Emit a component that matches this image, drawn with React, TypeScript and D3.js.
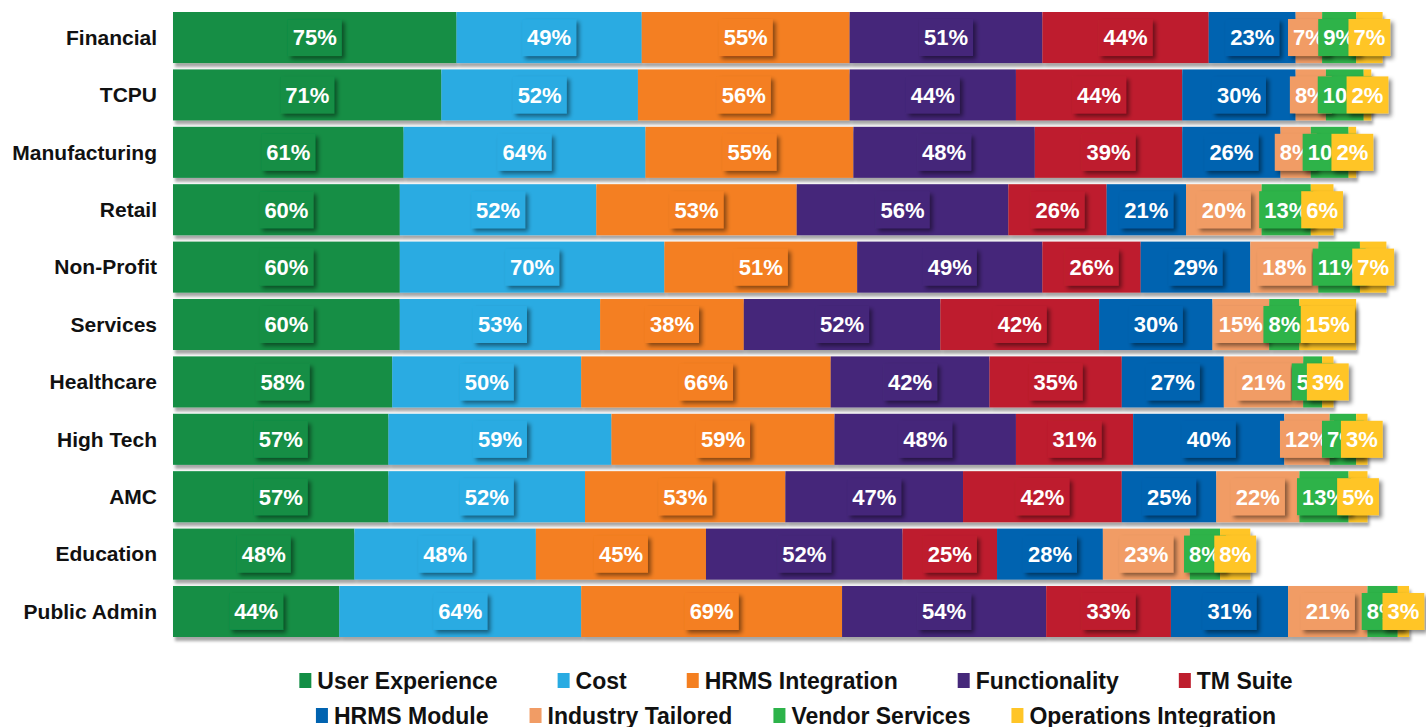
import { useRef, useEffect } from 'react';
import * as d3 from 'd3';

const categories = ['Financial', 'TCPU', 'Manufacturing', 'Retail', 'Non-Profit', 'Services', 'Healthcare', 'High Tech', 'AMC', 'Education', 'Public Admin'];

const seriesNames = ['User Experience', 'Cost', 'HRMS Integration', 'Functionality', 'TM Suite', 'HRMS Module', 'Industry Tailored', 'Vendor Services', 'Operations Integration'];

const userExperience = [75, 71, 61, 60, 60, 60, 58, 57, 57, 48, 44];
const cost = [49, 52, 64, 52, 70, 53, 50, 59, 52, 48, 64];
const hrmsIntegration = [55, 56, 55, 53, 51, 38, 66, 59, 53, 45, 69];
const functionality = [51, 44, 48, 56, 49, 52, 42, 48, 47, 52, 54];
const tmSuite = [44, 44, 39, 26, 26, 42, 35, 31, 42, 25, 33];
const hrmsModule = [23, 30, 26, 21, 29, 30, 27, 40, 25, 28, 31];
const industryTailored = [7, 8, 8, 20, 18, 15, 21, 12, 22, 23, 21];
const vendorServices = [9, 10, 10, 13, 11, 8, 5, 7, 13, 8, 8];
const operationsIntegration = [7, 2, 2, 6, 7, 15, 3, 3, 5, 8, 3];

const colors = ['#128E45', '#29ABE2', '#F47F20', '#45287A', '#BE1E2D', '#0063B0', '#F19C65', '#2DB34A', '#FFC527'];

const legendRows = [
    ['User Experience', 'Cost', 'HRMS Integration', 'Functionality', 'TM Suite'],
    ['HRMS Module', 'Industry Tailored', 'Vendor Services', 'Operations Integration'],
];

const FONT = '"Liberation Sans", Arial, sans-serif';

const App = () => {
    const svgRef = useRef<SVGSVGElement>(null);

    useEffect(() => {
        const svg = d3.select(svgRef.current);
        svg.selectAll('*').remove();

        const width = 1426;
        const left = 173;
        const values = [userExperience, cost, hrmsIntegration, functionality, tmSuite, hrmsModule, industryTailored, vendorServices, operationsIntegration];

        const rows = categories.map((c, i) => {
            const r: any = { category: c };
            seriesNames.forEach((s, j) => { r[s] = values[j][i]; });
            return r;
        });

        const stack = d3.stack().keys(seriesNames);
        const stacked = stack(rows);

        const x = d3.scaleLinear().domain([0, 320]).range([left, left + 320 * 3.78]);
        const y = d3.scaleBand().domain(categories).range([12, 637]).paddingInner(0.111).paddingOuter(0);
        const color = d3.scaleOrdinal<string>().domain(seriesNames).range(colors);

        const defs = svg.append('defs');
        defs.append('filter').attr('id', 'barShadow').attr('x', '-5%').attr('y', '-20%').attr('width', '110%').attr('height', '150%')
            .append('feDropShadow').attr('dx', 2).attr('dy', 4).attr('stdDeviation', 1.8)
            .attr('flood-color', '#000').attr('flood-opacity', 0.35);
        defs.append('filter').attr('id', 'boxShadow').attr('x', '-30%').attr('y', '-30%').attr('width', '160%').attr('height', '170%')
            .append('feDropShadow').attr('dx', 3).attr('dy', 3).attr('stdDeviation', 2)
            .attr('flood-color', '#000').attr('flood-opacity', 0.45);

        // category labels
        svg.append('g').selectAll('text').data(categories).join('text')
            .attr('x', 157)
            .attr('y', (d) => y(d)! + y.bandwidth() / 2)
            .attr('dy', '0.35em')
            .attr('text-anchor', 'end')
            .style('font-family', FONT)
            .style('font-weight', 'bold')
            .style('font-size', '21px')
            .style('fill', '#111')
            .text((d) => d);

        categories.forEach((cat, i) => {
            const row = svg.append('g');
            const bars = row.append('g').attr('filter', 'url(#barShadow)');
            stacked.forEach((layer) => {
                const seg = layer[i];
                bars.append('rect')
                    .attr('x', x(seg[0]))
                    .attr('y', y(cat)!)
                    .attr('width', x(seg[1]) - x(seg[0]))
                    .attr('height', y.bandwidth())
                    .style('fill', color(layer.key));
            });
            const cy = y(cat)! + y.bandwidth() / 2;
            stacked.forEach((layer) => {
                const seg = layer[i];
                const cx = (x(seg[0]) + x(seg[1])) / 2;
                const g = row.append('g');
                const box = g.append('rect').attr('filter', 'url(#boxShadow)').style('fill', color(layer.key));
                const t = g.append('text')
                    .attr('x', cx)
                    .attr('y', cy)
                    .attr('dy', '0.36em')
                    .attr('text-anchor', 'middle')
                    .style('font-family', FONT)
                    .style('font-weight', 'bold')
                    .style('font-size', '22px')
                    .style('fill', '#fff')
                    .text((seg[1] - seg[0]) + '%');
                const tw = (t.node() as SVGTextElement).getComputedTextLength();
                box.attr('x', cx - tw / 2 - 5).attr('y', cy - 18.5).attr('width', tw + 10).attr('height', 37);
            });
        });

        // legend
        const legendY = [681, 716];
        const gaps = [60, 41];
        const center = 796;
        legendRows.forEach((names, ri) => {
            const lg = svg.append('g');
            const items = names.map((n) => {
                const g = lg.append('g');
                g.append('rect').attr('y', legendY[ri] - 8).attr('width', 12).attr('height', 15).style('fill', color(n));
                const t = g.append('text')
                    .attr('x', 18)
                    .attr('y', legendY[ri])
                    .attr('dy', '0.35em')
                    .style('font-family', FONT)
                    .style('font-weight', 'bold')
                    .style('font-size', '23px')
                    .style('fill', '#111')
                    .text(n);
                const w = 18 + (t.node() as SVGTextElement).getComputedTextLength();
                return { g, w };
            });
            const total = d3.sum(items, (d) => d.w) + gaps[ri] * (items.length - 1);
            let cx = center - total / 2;
            items.forEach((it) => {
                it.g.attr('transform', `translate(${cx},0)`);
                cx += it.w + gaps[ri];
            });
        });

        svg.attr('width', width);
    }, []);

    return (
        <svg ref={svgRef} width={1426} height={727} style={{ position: 'absolute', left: 0, top: 0, background: '#fff' }} />
    );
};

export default App;
